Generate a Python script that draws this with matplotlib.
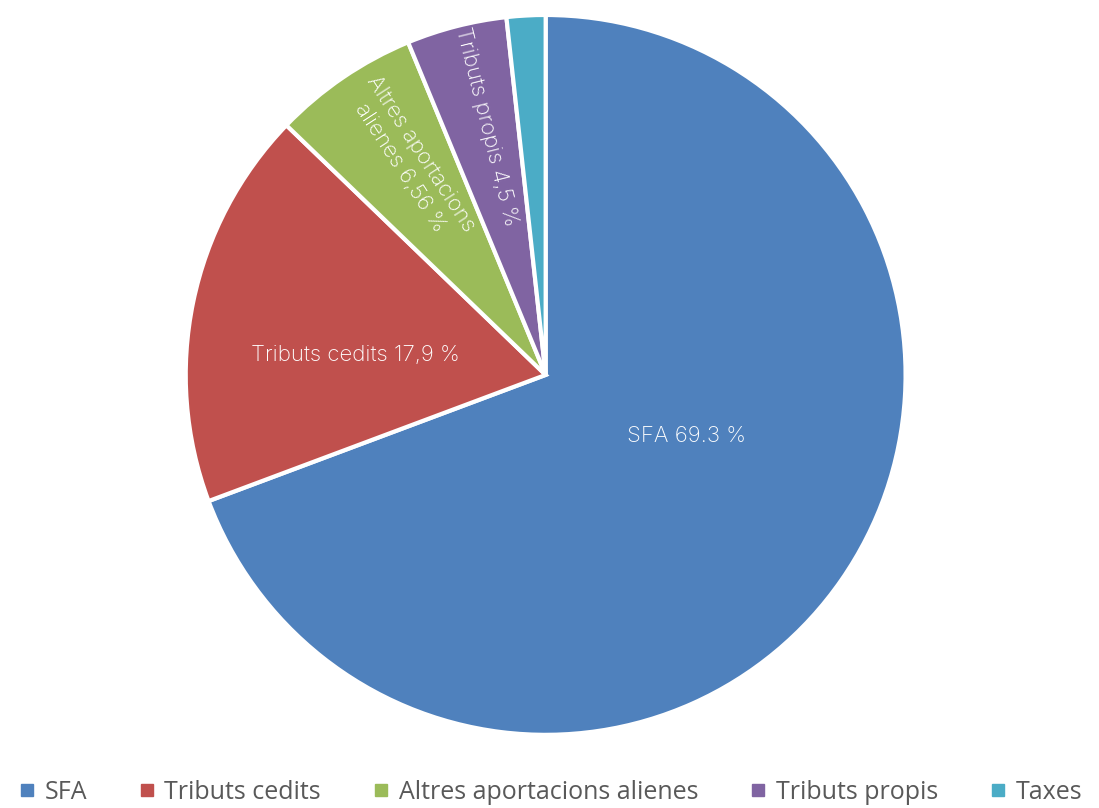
import matplotlib.pyplot as plt
from matplotlib.lines import Line2D

# dades
categories = ["SFA", "Tributs cedits", "Altres aportacions alienes", "Tributs propis", "Taxes"]
values = [69.3, 17.9, 6.56, 4.5, 1.74]
labels_in = ["SFA 69.3 %", "Tributs cedits 17,9 %", "Altres aportacions\nalienes 6,56 %",
             "Tributs propis 4,5 %", ""]
colors = ["#4F81BD", "#C0504D", "#9BBB59", "#8064A2", "#4BACC6"]

fig = plt.figure(figsize=(10.99, 8.08), dpi=100)
ax = fig.add_axes([0.169, 0.0905, 0.655, 0.891])

wedges, _ = ax.pie(values, colors=colors, startangle=90, counterclock=False,
                   wedgeprops=dict(edgecolor="white", linewidth=3))
ax.set_aspect("equal")
ax.set_xlim(-1, 1)
ax.set_ylim(-1, 1)

lab_font = ["Inter", "DejaVu Sans"]
kw = dict(color="white", fontsize=16, family=lab_font, fontweight="light",
          ha="center", va="center")

# etiquetes dins els sectors
ax.text(0.39, -0.17, labels_in[0], **kw)
ax.text(-0.53, 0.055, labels_in[1], **kw)
ax.text(-0.375, 0.595, labels_in[2], rotation=-57, linespacing=1.3, **kw)
ax.text(-0.165, 0.69, labels_in[3], rotation=-76, **kw)

handles = [Line2D([0], [0], marker="s", linestyle="", markersize=8,
                  markerfacecolor=c, markeredgecolor=c) for c in colors]
fig.legend(handles, categories, loc="lower center", ncol=5, frameon=False,
           bbox_to_anchor=(0.5, -0.024), handletextpad=0.3, columnspacing=2.0,
           handlelength=0.8,
           prop=dict(family=["Open Sans", "DejaVu Sans"], size=18),
           labelcolor="#595959")

fig.savefig("out.png", dpi=100)
